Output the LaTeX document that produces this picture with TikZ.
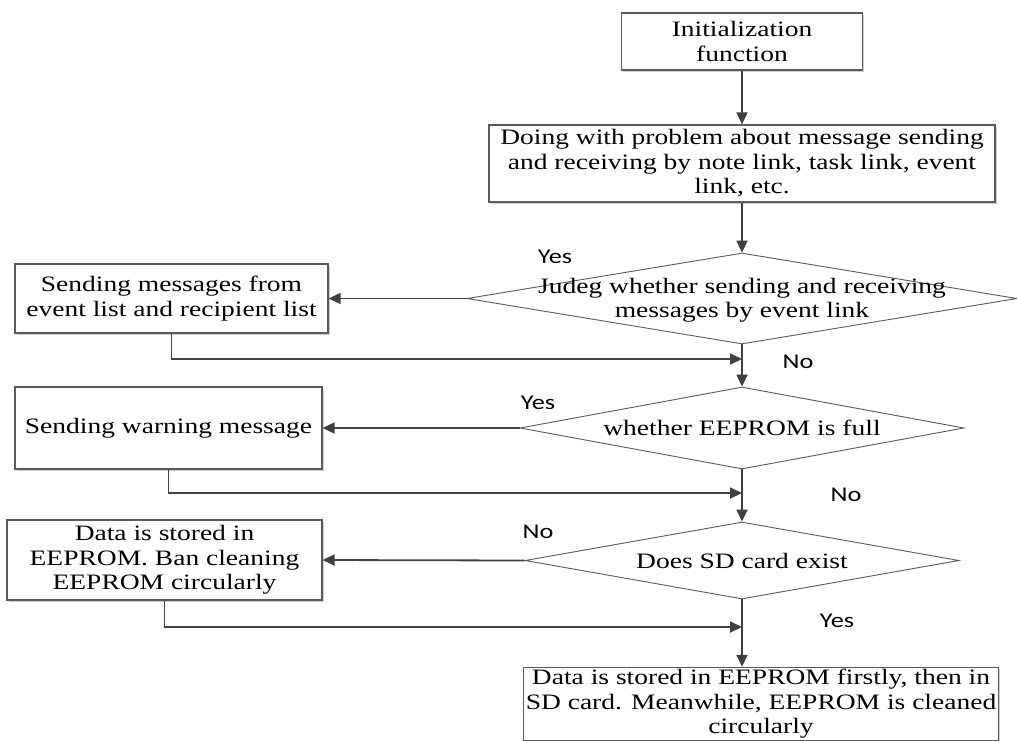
\documentclass[tikz,border=0pt]{standalone}
\usepackage{fontspec}
\setmainfont{Liberation Serif}[FakeStretch=1.25]
\newfontfamily\labfont{Carlito}[FakeStretch=1.25]
\usetikzlibrary{arrows.meta,shapes.geometric,shadows}
\definecolor{linec}{HTML}{404040}
\definecolor{bordc}{HTML}{5A5A5A}
\begin{document}
\begin{tikzpicture}[x=1pt,y=-1pt,
  box/.style={draw=bordc, line width=1.2pt, fill=white, align=center, inner sep=2pt,
    font=\fontsize{22}{24.5}\selectfont,
    drop shadow={shadow xshift=1.5pt,shadow yshift=-1.5pt,fill=black!30,opacity=0.6}},
  diam/.style={draw=bordc, line width=0.9pt, shape=diamond, inner sep=0pt, fill=white},
  dtext/.style={align=center, inner sep=0pt, font=\fontsize{22}{24}\selectfont},
  lab/.style={inner sep=0pt, font=\labfont\fontsize{21}{24}\selectfont},
  wire/.style={draw=linec, line width=1.8pt},
  arr/.style={wire, -{Triangle[length=12pt,width=11pt]}}]
\fill[white] (0,0) rectangle (1017,740);
\useasboundingbox (0,0) rectangle (1017,740);

\node[box, minimum width=241pt, minimum height=57pt] (init) at (742,41.5) {Initialization\\function};
\node[box, minimum width=506pt, minimum height=77pt] (proc) at (742,163.5) {Doing with problem about message sending\\and receiving by note link, task link, event\\link, etc.};

\node[diam, minimum width=550pt, minimum height=91pt] (d1) at (742,298.5) {};
\node[dtext] (d1t) at (742,300) {Judeg whether sending and receiving\\messages by event link};
\node[box, minimum width=313pt, minimum height=69pt] (s1) at (171.5,298.5) {Sending messages from\\event list and recipient list};

\node[diam, minimum width=444pt, minimum height=82pt] (d2) at (742,428) {};
\node[dtext] (d2t) at (d2) {whether EEPROM is full};
\node[box, minimum width=307pt, minimum height=82pt] (s2) at (168.5,428) {Sending warning message};

\node[diam, minimum width=434pt, minimum height=77pt] (d3) at (742,560.5) {};
\node[dtext] (d3t) at (d3) {Does SD card exist};
\node[box, minimum width=315pt, minimum height=80pt] (s3) at (164.5,560) {Data is stored in\\EEPROM. Ban cleaning\\EEPROM circularly};

\node[box, minimum width=470pt, minimum height=70pt] (fin) at (761,704) {Data is stored in EEPROM firstly, then in\\SD card. Meanwhile, EEPROM is cleaned\\circularly};

\coordinate (m1) at (742,359);
\coordinate (m2) at (742,493);
\coordinate (m3) at (742,627);

\draw[arr] (init) -- (proc);
\draw[arr] (proc) -- (d1);
\draw[arr] (d1.west) -- (s1.east);
\draw[wire] (d1.south) -- (m1);
\draw[arr] (s1.south) |- (m1);
\draw[arr] (m1) -- (d2.north);
\draw[arr] (d2.west) -- (s2.east);
\draw[wire] (d2.south) -- (m2);
\draw[arr] (s2.south) |- (m2);
\draw[arr] (m2) -- (d3.north);
\draw[arr] (d3.west) -- (s3.east);
\draw[wire] (d3.south) -- (m3);
\draw[arr] (s3.south) |- (m3);
\draw[arr] (m3) -- (m3 |- fin.north);

\node[lab] (y1) at (555,257) {Yes};
\node[lab] (n1) at (798,362) {No};
\node[lab] (y2) at (538,403) {Yes};
\node[lab] (n2) at (846,495) {No};
\node[lab] (n3) at (538,532) {No};
\node[lab] (y3) at (837,621) {Yes};
\end{tikzpicture}
\end{document}
